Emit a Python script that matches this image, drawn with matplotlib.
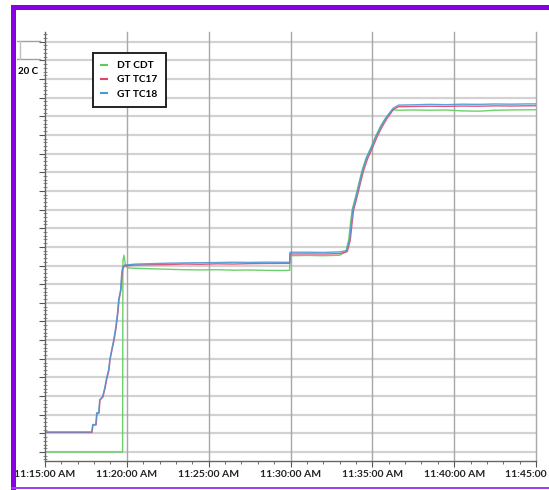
import numpy as np
import matplotlib
matplotlib.use('Agg')
import matplotlib.pyplot as plt
from matplotlib.ticker import MultipleLocator
from matplotlib.lines import Line2D
from matplotlib.patches import Rectangle

plt.rcParams['font.family'] = ['Lato', 'DejaVu Sans']

# minutes after 11:15:00 AM, temperature (C)
t_cdt = [0, 4.74, 4.76, 4.82, 4.92, 5.05, 5.5, 6.5, 7.5, 8.5, 9.5, 10.5, 11.5, 12.5, 13.5, 14.5,
         14.95, 14.97, 16.0, 17.0, 18.0, 18.25, 18.38, 18.56, 18.67, 18.77, 18.98, 19.18, 19.38,
         19.62, 19.9, 20.2, 20.5, 20.8, 21.22, 21.6, 22.5, 23.5, 24.5, 25.5, 26.5, 27.5,
         28.5, 29.5, 30.0]
v_cdt = [100, 100, 305, 311, 300, 297.5, 297, 296.5, 296, 295.5, 295.3, 295.5, 295, 295.2, 294.8, 294.7,
         294.8, 310.5, 310.8, 310.5, 311, 313.5, 315, 328, 346, 360, 374, 388.5, 402.5,
         415.5, 426, 438.5, 449.5, 458, 467, 466.5, 466.8, 466.5, 466.8, 465.8, 465.5, 466.5,
         466.8, 467, 467]

t_tc17 = [0, 2.87, 2.93, 3.12, 3.18, 3.30, 3.36, 3.54, 3.67, 3.79, 3.91, 3.97, 4.09, 4.22, 4.34, 4.46, 4.52,
          4.64, 4.70, 4.76, 4.89, 5.5, 6.5, 7.5, 8.5, 9.5, 10.5, 11.5, 12.5, 13.5, 14.5, 14.95, 14.97,
          16.0, 17.0, 18.0, 18.3, 18.47, 18.65, 18.76, 18.85, 19.06, 19.26, 19.46, 19.71, 19.98,
          20.28, 20.59, 20.89, 21.3, 21.6, 22.5, 23.5, 24.5, 25.5, 26.5, 27.5, 28.5, 29.5, 30.0]
v_tc17 = [121, 121, 129, 129, 141.8, 141.8, 155.8, 159, 168.6, 179.4, 188, 198.7, 209.4, 220, 233, 250, 263,
          273.7, 289.8, 297.3, 299.5, 300.5, 300.8, 301, 301.6, 301.3, 301.8, 301.6, 302, 302.2, 302.3, 302.3, 312.3,
          312.5, 312.3, 312.8, 314, 315, 327, 345, 359, 373, 387.5, 401.5, 414.5, 425,
          437.5, 448.5, 457.5, 467.5, 470.3, 470.5, 470.8, 470.6, 471, 470.8, 471.2, 471, 471.3, 471.3]

t_tc18 = [0, 2.85, 2.92, 3.10, 3.16, 3.28, 3.34, 3.52, 3.65, 3.77, 3.89, 3.96, 4.08, 4.2, 4.32, 4.44, 4.5,
          4.62, 4.68, 4.74, 4.86, 5.5, 6.5, 7.5, 8.5, 9.5, 10.5, 11.5, 12.5, 13.5, 14.5, 14.95, 14.97,
          16.0, 17.0, 18.0, 18.3, 18.43, 18.61, 18.72, 18.81, 19.02, 19.22, 19.42, 19.67, 19.94,
          20.24, 20.55, 20.85, 21.26, 21.6, 22.5, 23.5, 24.5, 25.5, 26.5, 27.5, 28.5, 29.5, 30.0]
v_tc18 = [121.5, 121.5, 129.5, 129.5, 142, 142, 156, 159.5, 169, 180, 188.5, 199, 210, 220.5, 233.5, 250.5, 263.5,
          274, 290, 298, 300.5, 301.5, 302, 302.5, 302.8, 303, 303.2, 303.5, 303.3, 303.6, 303.5, 303.5, 314.2,
          314.3, 314, 314.6, 315.5, 316, 328, 346, 360, 374.5, 389, 403, 416, 426.5,
          439, 449.5, 458.5, 468.5, 472, 472.3, 472.8, 472.5, 473, 472.8, 473.2, 473, 473.3, 473.3]

names = ['DT CDT', 'GT TC17', 'GT TC18']
colors = ['#5ccc5c', '#e0456e', '#4a98d8']
tick_minutes = [0, 5, 10, 15, 20, 25, 30]
tick_labels = ['11:15:00 AM', '11:20:00 AM', '11:25:00 AM', '11:30:00 AM',
               '11:35:00 AM', '11:40:00 AM', '11:45:00 AM']

fig = plt.figure(figsize=(5.49, 4.90), dpi=100)
ax = fig.add_axes([45/549, 1 - 460.7/490, (536 - 45)/549, (460.7 - 32)/490])

# grid
for yv in np.arange(100, 541, 20):
    ax.axhline(yv, color='#d2d2d2', lw=1.6, zorder=0)
for xv in tick_minutes[1:]:
    ax.axvline(xv, color='#a8a8a8', lw=1.0, zorder=0, clip_on=False)

series = [(t_cdt, v_cdt), (t_tc17, v_tc17), (t_tc18, v_tc18)]
for (t, v), c in zip(series, colors):
    ax.plot(t, v, color=c, lw=1.0, alpha=0.9, zorder=2)

ax.set_xlim(0, 30)
ax.set_ylim(90.7, 550.4)
ax.set_xticks(tick_minutes)
ax.set_xticklabels(tick_labels, fontsize=7.5, fontweight='bold', color='#222222')
ax.xaxis.set_minor_locator(MultipleLocator(1))
ax.set_yticks(np.arange(100, 541, 20))
ax.set_yticklabels([])
ax.yaxis.set_minor_locator(MultipleLocator(4))
ax.tick_params(axis='x', which='major', length=4, color='#555555', pad=3)
ax.tick_params(axis='x', which='minor', length=2.5, color='#555555')
ax.tick_params(axis='y', which='major', length=4, color='#555555', direction='out')
ax.tick_params(axis='y', which='minor', length=2.5, color='#777777', direction='inout')

for s in ['top', 'right']:
    ax.spines[s].set_visible(False)
for s in ['left', 'bottom']:
    ax.spines[s].set_color('#666666')
    ax.spines[s].set_linewidth(1.0)

handles = [Line2D([], [], color=c, lw=1.5) for c in colors]
leg = ax.legend(handles, names, loc='upper left', bbox_to_anchor=(0.098, 0.951),
                borderaxespad=0, fancybox=False, framealpha=1, edgecolor='#222222',
                handlelength=0.6, handletextpad=1.0, labelspacing=0.5,
                borderpad=0.8, prop={'weight': 'bold', 'size': 7.3})
leg.get_frame().set_linewidth(1.4)

# scale bracket and label
fig.add_artist(Line2D([17/549, 40/549], [1 - 40.7/490, 1 - 40.7/490], color='#a0a0a0', lw=1))
fig.add_artist(Line2D([17/549, 40/549], [1 - 59.3/490, 1 - 59.3/490], color='#a0a0a0', lw=1))
fig.add_artist(Line2D([20/549, 20/549], [1 - 40.7/490, 1 - 59.3/490], color='#c0c0c0', lw=1))
fig.text(18/549, 1 - 72/490, '20 C', fontsize=7, fontweight='bold', va='center', ha='left')

# purple frame
purple = '#8a00e6'
fig.add_artist(Rectangle((11/549, 0), 5/549, 1 - 5/490, transform=fig.transFigure,
                         color=purple, lw=0))
fig.add_artist(Rectangle((11/549, 1 - 10.5/490), 1, 5.5/490, transform=fig.transFigure,
                         color=purple, lw=0))
fig.add_artist(Rectangle((11/549, 1 - 489/490), 1, 2/490, transform=fig.transFigure,
                         color='#a040e8', lw=0))

plt.savefig('out.png', dpi=100)
